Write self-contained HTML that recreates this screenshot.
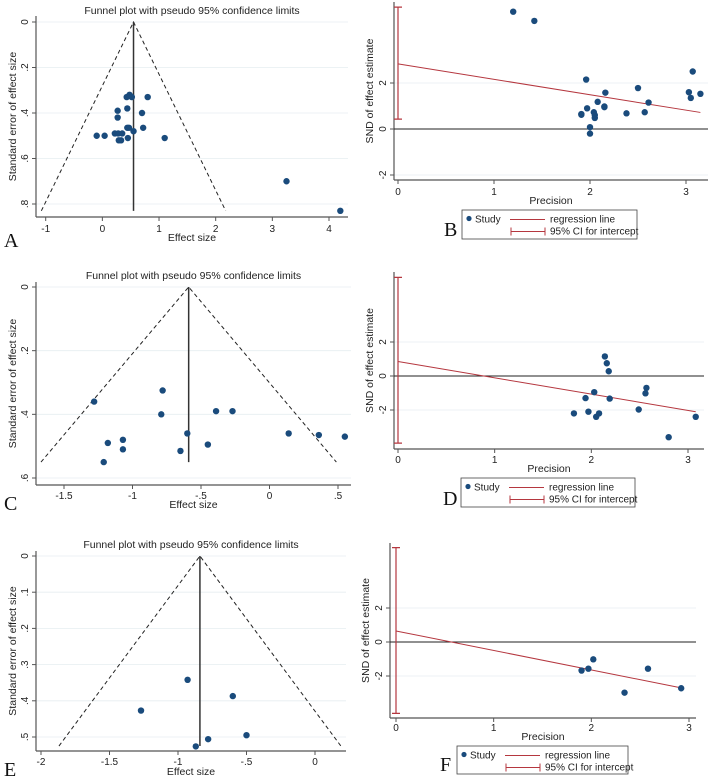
<!DOCTYPE html>
<html><head><meta charset="utf-8"><style>
body{margin:0;background:#fff}
svg{display:block;font-family:"Liberation Sans",sans-serif}
</style></head><body>
<svg id="fig" width="708" height="776" viewBox="0 0 708 776" xmlns="http://www.w3.org/2000/svg"></svg>
<script>
// ---- Data ----
const aEffect=[0.48,0.43,0.52,0.8,0.27,0.44,0.7,0.27,0.44,0.47,0.72,-0.1,0.04,0.22,0.28,0.35,0.55,0.45,1.1,0.29,0.33,3.25,4.2];
const aSE=[0.32,0.33,0.33,0.33,0.39,0.38,0.40,0.42,0.465,0.465,0.465,0.50,0.50,0.49,0.49,0.49,0.48,0.51,0.51,0.52,0.52,0.70,0.83];
const aPooled=0.55, aMaxSE=0.83;
const aXTicks=[-1,0,1,2,3,4], aXTickLabels=["-1","0","1","2","3","4"];
const aYTicks=[0,0.2,0.4,0.6,0.8], aYTickLabels=["0",".2",".4",".6",".8"];

const bPrec=[1.2,1.42,1.96,3.07,2.5,1.97,2.16,3.03,3.05,3.15,2.08,2.15,2.15,2.61,1.91,1.91,2.04,2.05,2.05,2.38,2.57,2.0,2.0];
const bSND=[5.1,4.7,2.15,2.5,1.78,0.9,1.58,1.6,1.35,1.53,1.18,0.98,0.95,1.15,0.65,0.62,0.73,0.6,0.48,0.68,0.73,0.08,-0.2];
const bReg=[2.83,0.72], bRegEnd=3.15, bCI=[0.43,5.3];
const bXTicks=[0,1,2,3], bYTicks=[-2,0,2], bYTickLabels=["-2","0","2"];

const cEffect=[-1.28,-0.78,-0.79,-0.39,-0.27,-0.6,0.14,0.36,0.55,-1.18,-1.07,-1.07,-0.45,-0.65,-1.21];
const cSE=[0.36,0.325,0.40,0.39,0.39,0.46,0.46,0.465,0.47,0.49,0.48,0.51,0.495,0.515,0.55];
const cPooled=-0.59, cMaxSE=0.55;
const cXTicks=[-1.5,-1,-0.5,0,0.5], cXTickLabels=["-1.5","-1","-.5","0",".5"];
const cYTicks=[0,0.2,0.4,0.6], cYTickLabels=["0",".2",".4",".6"];

const dPrec=[2.14,2.16,2.18,2.03,1.94,2.19,2.57,2.56,1.82,1.97,2.05,2.08,2.49,3.08,2.8];
const dSND=[1.15,0.75,0.28,-0.95,-1.3,-1.33,-0.7,-1.02,-2.2,-2.1,-2.4,-2.2,-1.97,-2.4,-3.6];
const dReg=[0.85,-2.1], dRegEnd=3.08, dCI=[-3.95,5.8];
const dXTicks=[0,1,2,3], dYTicks=[-2,0,2], dYTickLabels=["-2","0","2"];

const eEffect=[-0.93,-0.6,-1.27,-0.5,-0.78,-0.87];
const eSE=[0.342,0.387,0.427,0.495,0.506,0.526];
const ePooled=-0.84, eMaxSE=0.525;
const eXTicks=[-2,-1.5,-1,-0.5,0], eXTickLabels=["-2","-1.5","-1","-.5","0"];
const eYTicks=[0,0.1,0.2,0.3,0.4,0.5], eYTickLabels=["0",".1",".2",".3",".4",".5"];

const fPrec=[1.9,1.97,2.02,2.58,2.34,2.92];
const fSND=[-1.68,-1.57,-1.02,-1.57,-2.98,-2.72];
const fReg=[0.65,-2.7], fRegEnd=2.92, fCI=[-4.2,5.55];
const fXTicks=[0,1,2,3], fYTicks=[-2,0,2], fYTickLabels=["-2","0","2"];

// ---- Helpers ----
const NS="http://www.w3.org/2000/svg";
const svg=document.getElementById('fig');
function mk(tag,attrs,parent,text){const e=document.createElementNS(NS,tag);for(const k in attrs)e.setAttribute(k,attrs[k]);if(text!==undefined)e.textContent=text;(parent||svg).appendChild(e);return e;}
function lin(d0,d1,r0,r1){return v=>r0+(v-d0)*(r1-r0)/(d1-d0);}
const DOT="#1a4b7c", RED="#b5373f", AX="#555";

function axes(g,L,sx,sy,xt,xl,yt,yl){
  yt.forEach((t,i)=>{
    const gl=mk('line',{x1:L.ax,x2:L.right,y1:sy(t),y2:sy(t),stroke:'#e6eef0','stroke-width':0.8},g);
    
    mk('line',{x1:L.ax-4,x2:L.ax,y1:sy(t),y2:sy(t),stroke:AX},g);
    const tx=mk('text',{x:L.ax-8,y:sy(t),'font-size':10,fill:'#222','text-anchor':'middle',transform:`rotate(-90 ${L.ax-8} ${sy(t)})`},g,yl[i]);
    
  });
  xt.forEach((t,i)=>{
    mk('line',{x1:sx(t),x2:sx(t),y1:L.ay,y2:L.ay+4,stroke:AX},g);
    const tx=mk('text',{x:sx(t),y:L.tickY,'font-size':10,fill:'#222','text-anchor':'middle'},g,xl[i]);
    
  });
  const ya=mk('line',{x1:L.ax,x2:L.ax,y1:L.top,y2:L.ay,stroke:AX,'stroke-width':1.2},g);
  
  const xa=mk('line',{x1:L.ax,x2:L.right,y1:L.ay,y2:L.ay,stroke:AX,'stroke-width':1.2},g);
  
}
function dots(g,xs,ys,sx,sy){xs.forEach((x,i)=>{const c=mk('circle',{cx:sx(x),cy:sy(ys[i]),r:3.2,fill:DOT},g);});}

function funnel(name,L,xs,ys,pooled,maxSE,xt,xl,yt,yl,letter){
  const g=mk('g',{});  
  const sx=lin(L.x0,L.x1,L.px0,L.px1), sy=lin(0,L.y1,L.py0,L.py1);
  axes(g,L,sx,sy,xt,xl,yt,yl);
  const t=mk('text',{x:(L.ax+L.right)/2,y:L.titleY,'font-size':10.5,fill:'#222','text-anchor':'middle'},g,'Funnel plot with pseudo 95% confidence limits');
  
  const lo=pooled-1.96*maxSE, hi=pooled+1.96*maxSE;
  const dl=mk('path',{d:`M${sx(lo)},${sy(maxSE)}L${sx(pooled)},${sy(0)}L${sx(hi)},${sy(maxSE)}`,fill:'none',stroke:'#222','stroke-dasharray':'4,3','stroke-width':1},g);
  
  const pl=mk('line',{x1:sx(pooled),x2:sx(pooled),y1:sy(0),y2:sy(maxSE),stroke:'#333','stroke-width':1.5},g);
  
  dots(g,xs,ys,sx,sy);
  const yt2=mk('text',{x:L.ylabX,y:(L.top+L.ay)/2,'font-size':10.5,fill:'#222','text-anchor':'middle',transform:`rotate(-90 ${L.ylabX} ${(L.top+L.ay)/2})`},g,'Standard error of effect size');
  
  const xt2=mk('text',{x:(L.ax+L.right)/2,y:L.xlabY,'font-size':10.5,fill:'#222','text-anchor':'middle'},g,'Effect size');
  
  const lt=mk('text',{x:4,y:L.letterY,'font-size':20,fill:'#111','font-family':'Liberation Serif, serif'},g,letter);
  
}

function egger(name,L,xs,ys,reg,regEnd,ci,xt,yt,yl,letter){
  const g=mk('g',{});  
  const sx=lin(0,3,L.px0,L.px3), sy=lin(0,2,L.py0,L.py2);
  axes(g,L,sx,sy,xt,xt.map(String),yt,yl);
  const zl=mk('line',{x1:L.ax,x2:L.right,y1:sy(0),y2:sy(0),stroke:'#222','stroke-width':1},g);
  
  const cx=sx(0);
  const cl=mk('path',{d:`M${cx},${sy(ci[0])}V${sy(ci[1])}M${cx-4},${sy(ci[0])}H${cx+4}M${cx-4},${sy(ci[1])}H${cx+4}`,stroke:RED,'stroke-width':1.2,fill:'none'},g);
  
  const slope=reg[1]; // value at end
  const rl=mk('line',{x1:sx(0),y1:sy(reg[0]),x2:sx(regEnd),y2:sy(slope),stroke:RED,'stroke-width':1},g);
  
  dots(g,xs,ys,sx,sy);
  const yt2=mk('text',{x:L.ylabX,y:(L.top+L.ay)/2,'font-size':10.5,fill:'#222','text-anchor':'middle',transform:`rotate(-90 ${L.ylabX} ${(L.top+L.ay)/2})`},g,'SND of effect estimate');
  
  const xt2=mk('text',{x:(L.ax+L.right)/2,y:L.xlabY,'font-size':10.5,fill:'#222','text-anchor':'middle'},g,'Precision');
  
  const lg=mk('g',{},g);  
  const b=L.leg;
  mk('rect',{x:b[0],y:b[1],width:b[2]-b[0],height:b[3]-b[1],fill:'#fff',stroke:'#444','stroke-width':0.8},lg);
  const r1=b[1]+9.5, r2=b[1]+21.5;
  mk('circle',{cx:b[0]+7,cy:r1-1,r:2.6,fill:DOT},lg);
  mk('text',{x:b[0]+13,y:r1+3,'font-size':10,fill:'#222'},lg,'Study');
  mk('line',{x1:b[0]+48,x2:b[0]+83,y1:r1,y2:r1,stroke:RED},lg);
  mk('text',{x:b[0]+88,y:r1+3,'font-size':10,fill:'#222'},lg,'regression line');
  mk('path',{d:`M${b[0]+49},${r2}H${b[0]+83}M${b[0]+49},${r2-4}V${r2+4}M${b[0]+83},${r2-4}V${r2+4}`,stroke:RED,fill:'none'},lg);
  mk('text',{x:b[0]+88,y:r2+3,'font-size':10,fill:'#222'},lg,'95% CI for intercept');
  const lt=mk('text',{x:L.letterX,y:L.letterY,'font-size':20,fill:'#111','font-family':'Liberation Serif, serif'},g,letter);
  
}

funnel('funnel-plot-a',{ax:36,right:348,top:16,ay:217,tickY:232,x0:-1,x1:4,px0:45.7,px1:329,y1:0.8,py0:22,py1:204,titleY:14,ylabX:16,xlabY:241,letterY:247},
  aEffect,aSE,aPooled,aMaxSE,aXTicks,aXTickLabels,aYTicks,aYTickLabels,'A');
egger('egger-plot-b',{ax:394,right:708,top:2,ay:180,tickY:195,px0:398,px3:686,py0:129,py2:83,ylabX:373,xlabY:204,leg:[462,210,637,239],letterX:444,letterY:236},
  bPrec,bSND,bReg,bRegEnd,bCI,bXTicks,bYTicks,bYTickLabels,'B');
funnel('funnel-plot-c',{ax:36,right:351,top:282,ay:485,tickY:499,x0:-1.5,x1:0.5,px0:64,px1:338,y1:0.6,py0:287,py1:478,titleY:279,ylabX:16,xlabY:508,letterY:510},
  cEffect,cSE,cPooled,cMaxSE,cXTicks,cXTickLabels,cYTicks,cYTickLabels,'C');
egger('egger-plot-d',{ax:394,right:704,top:272,ay:449,tickY:463,px0:398,px3:688,py0:376,py2:342,ylabX:373,xlabY:472,leg:[461,478,635,507],letterX:443,letterY:505},
  dPrec,dSND,dReg,dRegEnd,dCI,dXTicks,dYTicks,dYTickLabels,'D');
funnel('funnel-plot-e',{ax:36,right:346,top:551,ay:751,tickY:765,x0:-2,x1:0,px0:41,px1:315,y1:0.5,py0:556,py1:737,titleY:548,ylabX:16,xlabY:775,letterY:776},
  eEffect,eSE,ePooled,eMaxSE,eXTicks,eXTickLabels,eYTicks,eYTickLabels,'E');
egger('egger-plot-f',{ax:390,right:696,top:543,ay:718,tickY:731,px0:396,px3:689,py0:642,py2:608,ylabX:369,xlabY:740,leg:[457,746,628,774],letterX:440,letterY:771},
  fPrec,fSND,fReg,fRegEnd,fCI,fXTicks,fYTicks,fYTickLabels,'F');
</script>
</body></html>
